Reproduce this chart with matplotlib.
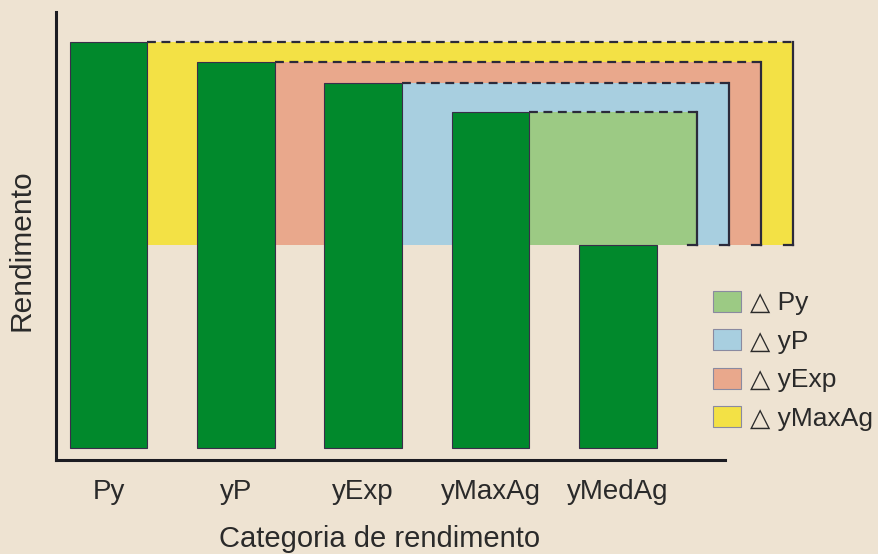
import matplotlib
matplotlib.use("Agg")
import matplotlib.pyplot as plt
from matplotlib.patches import Patch

plt.rcParams['font.family'] = ['Liberation Sans', 'DejaVu Sans']

# data
categories = ['Py', 'yP', 'yExp', 'yMaxAg', 'yMedAg']
rendimento = [10.0, 9.5, 9.0, 8.28, 5.0]
gap_labels = ['\u25b3 Py', '\u25b3 yP', '\u25b3 yExp', '\u25b3 yMaxAg']

# style / layout
bar_color = '#01892c'
gap_colors = {'Py': '#f3e145', 'yP': '#e9a88c', 'yExp': '#a8cfe0', 'yMaxAg': '#9cca84'}
gap_right = {'Py': 5.37, 'yP': 5.12, 'yExp': 4.87, 'yMaxAg': 4.62}
bar_w = 0.61
bg = '#eee3d2'
line_col = '#2b2a3a'
txt_col = '#2a2a2a'
fs = 20
leg_fs = 19

fig = plt.figure(figsize=(8.79, 5.54), dpi=100, facecolor=bg)
ax = fig.add_axes([0.0637, 0.1697, 0.7611, 0.8087])
ax.set_facecolor(bg)

x = list(range(len(categories)))
base = rendimento[-1]

# gap rectangles, widest first so the smaller ones sit on top
for z, cat in enumerate(['Py', 'yP', 'yExp', 'yMaxAg']):
    i = categories.index(cat)
    left = x[i] + bar_w / 2
    right = gap_right[cat]
    top = rendimento[i]
    ax.bar(left, top - base, bottom=base, width=right - left, align='edge',
           color=gap_colors[cat], linewidth=0, zorder=1 + z, clip_on=False)
    ax.plot([left, right], [top, top], color=line_col, lw=1.6,
            linestyle=(0, (4, 2.5)), zorder=1 + z, clip_on=False)
    ax.plot([right, right], [top, base], color=line_col, lw=1.6,
            zorder=1 + z, clip_on=False)
    ax.plot([right - 0.07, right], [base, base], color=line_col, lw=1.6,
            zorder=1 + z, clip_on=False)

ax.bar(x, rendimento, width=bar_w, color=bar_color, edgecolor='#3a2d4a',
       linewidth=0.8, zorder=10)

ax.set_xlim(-0.412, 4.84)
ax.set_ylim(-0.3, 10.74)

for s in ['top', 'right']:
    ax.spines[s].set_visible(False)
for s in ['left', 'bottom']:
    ax.spines[s].set_linewidth(2.2)
    ax.spines[s].set_color('#1c1c22')

ax.set_xticks(x)
ax.set_xticklabels(categories, fontsize=fs, color=txt_col)
ax.set_yticks([])
ax.tick_params(axis='x', length=0, pad=14)

ax.set_xlabel('Categoria de rendimento', fontsize=21, color=txt_col, va='center')
ax.xaxis.set_label_coords(0.484, -0.177)
ax.set_ylabel('Rendimento', fontsize=21.5, color=txt_col, va='center')
ax.yaxis.set_label_coords(-0.051, 0.469)

handles = [Patch(facecolor=gap_colors[c], edgecolor='#8a8aa0', linewidth=0.8)
           for c in ['yMaxAg', 'yExp', 'yP', 'Py']]
leg = fig.legend(handles, gap_labels, loc='upper left',
                 bbox_to_anchor=(0.811, 0.475), frameon=False, fontsize=leg_fs,
                 handlelength=1.06, handleheight=0.83, handletextpad=0.35,
                 labelspacing=0.53, borderaxespad=0, borderpad=0)
for t in leg.get_texts():
    t.set_color(txt_col)

fig.savefig('out.png', dpi=100, facecolor=bg)
